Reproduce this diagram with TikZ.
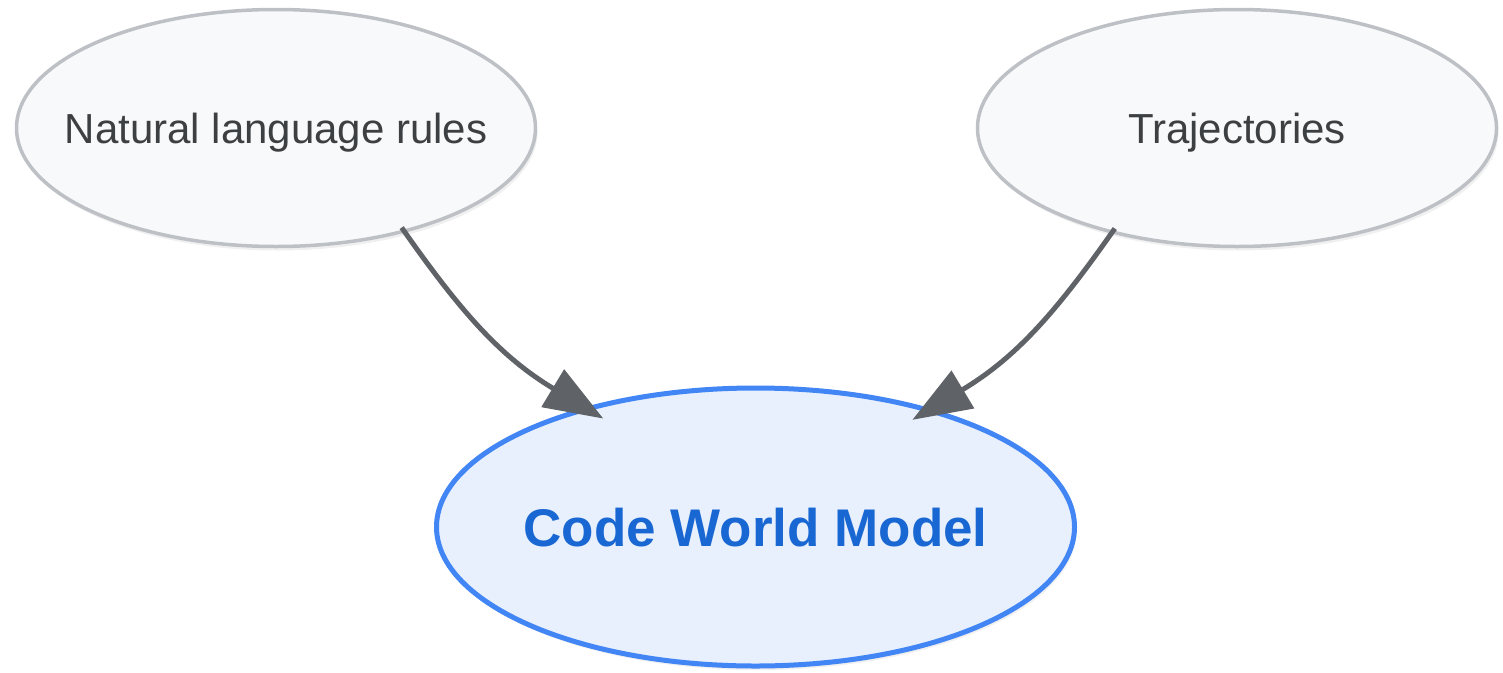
\documentclass[tikz,border=0pt]{standalone}
\usepackage{fontspec}
\setmainfont{Liberation Sans}
\usetikzlibrary{shapes.geometric,arrows.meta,shadows}
\definecolor{srcfill}{HTML}{F8F9FA}
\definecolor{srcline}{HTML}{BDC1C6}
\definecolor{srctext}{HTML}{3C4043}
\definecolor{cwmfill}{HTML}{E8F0FE}
\definecolor{cwmline}{HTML}{4285F4}
\definecolor{cwmtext}{HTML}{1967D2}
\definecolor{flowgray}{HTML}{5F6368}
% zero-width box so the ellipse keeps its own size
\newcommand{\centred}[1]{\makebox[0pt][c]{#1}}
\begin{document}
\begin{tikzpicture}[x=1pt,y=1pt,
  softshadow/.style={drop shadow={opacity=0.12,shadow xshift=2pt,shadow yshift=-4pt}},
  source/.style={ellipse,draw=srcline,line width=3.5pt,fill=srcfill,softshadow,
    minimum width=519pt,minimum height=237pt,inner sep=0pt,
    text=srctext,font=\fontsize{42}{50}\selectfont,text height=30pt,text depth=0pt},
  model/.style={ellipse,draw=cwmline,line width=5pt,fill=cwmfill,softshadow,
    minimum width=638pt,minimum height=278pt,inner sep=0pt,
    text=cwmtext,font=\fontsize{53}{62}\selectfont\bfseries,text height=38pt,text depth=0pt},
  flow/.style={draw=flowgray,line width=5pt,
    -{Triangle[length=59pt,width=43pt]},shorten <=-6pt,shorten >=-22pt}]
\useasboundingbox (0,0) rectangle (1503,-672);
\node[source] (rules) at (276,-128) {\centred{Natural language rules}};
\node[source] (traj) at (1237,-128) {\centred{Trajectories}};
\node[model] (cwm) at (755.5,-527) {\centred{Code World Model}};
\draw[flow] (rules.-39.8) to[out=-55,in=149] (cwm.145.6);
\draw[flow] (traj.-140.7) to[out=-125,in=31] (cwm.34);
\end{tikzpicture}
\end{document}
